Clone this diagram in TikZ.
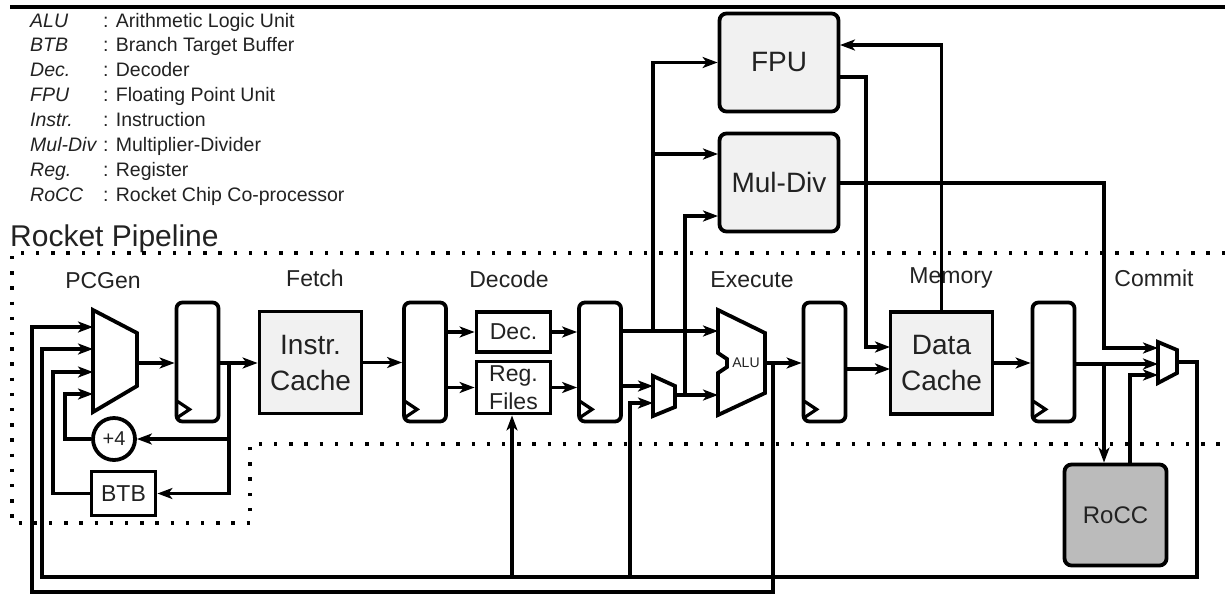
\documentclass[tikz,border=0pt]{standalone}
\usepackage{fontspec}
\setmainfont{Liberation Sans}
\usetikzlibrary{arrows.meta,calc}
\definecolor{txt}{HTML}{222222}
\definecolor{cachefill}{HTML}{F1F1F1}
\definecolor{roccfill}{HTML}{BBBBBB}
\begin{document}
\begin{tikzpicture}[x=1pt,y=-1pt,
  wire/.style={line width=3.8pt},
  arr/.style={wire,-{Stealth[length=15pt,width=11pt,inset=4pt]}},
  blk/.style={draw,line width=3.8pt,inner sep=0pt,align=center,text=txt},
  regbox/.style={blk,rounded corners=6pt,minimum width=42pt,minimum height=119pt},
  cachebox/.style={blk,fill=cachefill,minimum width=102pt,minimum height=102pt,font=\fontsize{28}{36}\selectfont},
  unitbox/.style={blk,fill=cachefill,rounded corners=7pt,minimum width=119pt,minimum height=98pt,font=\fontsize{28}{34}\selectfont},
  smallbox/.style={blk,font=\fontsize{23}{28}\selectfont},
  stagelbl/.style={anchor=base,inner sep=0pt,text=txt,font=\fontsize{23}{28}\selectfont},
  legab/.style={anchor=base west,inner sep=0pt,text=txt,font=\fontsize{19.5}{23}\selectfont\itshape},
  legtx/.style={anchor=base west,inner sep=0pt,text=txt,font=\fontsize{19.5}{23}\selectfont},
  dots/.style={line width=3.4pt,dash pattern=on 3.4pt off 11.8pt},
  ghost/.style={inner sep=0pt,outer sep=0pt}
]
\useasboundingbox (0,0) rectangle (1225,595);
\fill[white] (0,0) rectangle (1225,595);

% top rule
\draw[line width=3.8pt] (10,7) -- (1225,7);

% legend
\foreach \i/\ab/\tx in {0/ALU/Arithmetic Logic Unit,1/BTB/Branch Target Buffer,2/Dec./Decoder,3/FPU/Floating Point Unit,4/Instr./Instruction,5/Mul-Div/Multiplier-Divider,6/Reg./Register,7/RoCC/Rocket Chip Co-processor}{
  \node[legab] (la\i) at (30,27+24.9*\i) {\ab};
  \node[legtx] (lt\i) at (103,27+24.9*\i) {: \tx};
}

% pipeline frame
\node[anchor=base west,inner sep=0pt,text=txt,font=\fontsize{30}{34}\selectfont] (rp) at (10,246) {Rocket Pipeline};
\draw[dots] (1225,253) -- (12,253) -- (12,523) -- (250,523) -- (250,444) -- (1225,444);

% stage labels
\node[stagelbl] (sPC) at (103,288) {PCGen};
\node[stagelbl] (sF) at (315,286) {Fetch};
\node[stagelbl] (sD) at (509,287) {Decode};
\node[stagelbl] (sE) at (752,287) {Execute};
\node[stagelbl] (sM) at (951,283) {Memory};
\node[stagelbl] (sC) at (1154,286) {Commit};

% pipeline registers
\node[regbox] (reg1) at (197.5,362) {};
\node[regbox] (reg2) at (425,362) {};
\node[regbox] (reg3) at (600,362) {};
\node[regbox] (reg4) at (824.5,362) {};
\node[regbox] (reg5) at (1053.5,362) {};
\foreach \r in {reg1,reg2,reg3,reg4,reg5}
  \draw[line width=3.2pt] ($(\r.south west)+(3,-22)$) -- ++(12,8) -- ++(-12,8);

% blocks
\node[cachebox] (icache) at (310.5,362.5) {Instr.\\Cache};
\node[cachebox] (dcache) at (941.5,363) {Data\\Cache};
\node[smallbox,minimum width=74pt,minimum height=40pt] (dec) at (513.5,332) {Dec.};
\node[smallbox,minimum width=74pt,minimum height=52pt] (regf) at (513.5,387.5) {Reg.\\Files};
\node[unitbox] (fpu) at (779,62.5) {FPU};
\node[unitbox] (muldiv) at (779,182.5) {Mul-Div};
\node[blk,fill=roccfill,rounded corners=7pt,minimum width=102pt,minimum height=101pt,font=\fontsize{24}{28}\selectfont] (rocc) at (1115.5,515) {RoCC};
\node[smallbox,minimum width=64pt,minimum height=44pt] (btb) at (123.5,493.5) {BTB};
\node[blk,circle,minimum size=42pt,font=\fontsize{20}{24}\selectfont] (plus4) at (114,439) {+4};

% muxes and ALU
\node[ghost,minimum width=44pt,minimum height=102pt] (pcmux) at (115,361) {};
\draw[wire] (pcmux.north west) -- ($(pcmux.north east)+(0,23)$) -- ($(pcmux.south east)+(0,-26)$) -- (pcmux.south west) -- cycle;
\node[ghost,minimum width=22pt,minimum height=40pt] (smux) at (664,396) {};
\draw[wire] (smux.north west) -- ($(smux.north east)+(0,10)$) -- ($(smux.south east)+(0,-9)$) -- (smux.south west) -- cycle;
\node[ghost,minimum width=19pt,minimum height=41pt] (cmux) at (1167.5,362.5) {};
\draw[wire] (cmux.north west) -- ($(cmux.north east)+(0,8)$) -- ($(cmux.south east)+(0,-10)$) -- (cmux.south west) -- cycle;
\node[ghost,minimum width=47pt,minimum height=105pt] (alu) at (741.5,362.5) {};
\draw[wire] (alu.north west) -- ($(alu.north east)+(0,23)$) -- ($(alu.south east)+(0,-22)$) -- (alu.south west)
  -- (718,373) -- (727,367) -- (727,359) -- (718,353) -- cycle;
\node[inner sep=0pt,text=txt,font=\fontsize{14}{16}\selectfont] (alulbl) at (746,363) {ALU};

% pins and bends
\coordinate (pcI1) at (93,327);
\coordinate (pcI2) at (93,349);
\coordinate (pcI3) at (93,372);
\coordinate (pcI4) at (93,394);
\coordinate (pcO) at (137,363);
\coordinate (br1) at (229,363);
\coordinate (k4) at (65,394);
\coordinate (k3) at (53,372);
\coordinate (aluB) at (773,363);
\coordinate (fbL1) at (32,592);
\coordinate (cO) at (1177,362);
\coordinate (cR) at (1197,577);
\coordinate (fbL2) at (42,577);
\coordinate (wbR) at (512,577);
\coordinate (wbS) at (630,577);
\coordinate (sI1) at (653,386);
\coordinate (sI2) at (653,403);
\coordinate (sO) at (675,395);
\coordinate (aluI1) at (718,331);
\coordinate (aluI2) at (718,395);
\coordinate (aluO) at (765,363);
\coordinate (brF) at (653,331);
\coordinate (brM) at (685,395);
\coordinate (mdI1) at (718,154);
\coordinate (mdI2) at (718,216);
\coordinate (fpuO) at (840,77);
\coordinate (fpuI2) at (840,45);
\coordinate (kF) at (866,347);
\coordinate (dcI1) at (890,347);
\coordinate (dcI2) at (890,369);
\coordinate (mdO) at (840,183);
\coordinate (kM) at (1104,348);
\coordinate (cI1) at (1158,348);
\coordinate (cI2) at (1158,364);
\coordinate (cI3) at (1158,375);
\coordinate (brR) at (1104,364);
\coordinate (rOut) at (1130,0);

% PCGen stage
\draw[arr] (pcO) -- (reg1.west |- pcO);
\draw[arr] (reg1.east |- br1) -- (icache.west |- br1);
\draw[arr] (br1) |- (plus4.east);
\draw[arr] (br1) |- (btb.east);
\draw[arr] (plus4.west) -| (k4) -- (pcI4);
\draw[arr] (btb.west) -| (k3) -- (pcI3);
\draw[arr] (aluB) |- (fbL1) |- (pcI1);
\draw[arr] (cO) -| (cR) -- (fbL2) |- (pcI2);

% fetch / decode
\draw[arr] (icache.east) -- (reg2.west |- icache.east);
\draw[arr] (reg2.east |- dec.west) -- (dec.west);
\draw[arr] (reg2.east |- regf.west) -- (regf.west);
\draw[arr] (dec.east) -- (reg3.west |- dec.east);
\draw[arr] (regf.east) -- (reg3.west |- regf.east);
\draw[arr] (wbR) -- (wbR |- regf.south);

% execute
\draw[arr] (reg3.east |- aluI1) -- (aluI1);
\draw[arr] (brF) |- (fpu.west);
\draw[arr] (brF) |- (mdI1);
\draw[arr] (reg3.east |- sI1) -- (sI1);
\draw[arr] (wbS) |- (sI2);
\draw[arr] (sO) -- (aluI2);
\draw[arr] (brM) |- (mdI2);
\draw[arr] (aluO) -- (reg4.west |- aluO);

% memory
\draw[arr] (reg4.east |- dcI2) -- (dcI2);
\draw[arr] (fpuO) -| (kF) -- (dcI1);
\draw[arr] (dcache.north) |- (fpuI2);
\draw[arr] (dcache.east) -- (reg5.west |- dcache.east);

% commit
\draw[arr] (mdO) -| (kM) -- (cI1);
\draw[arr] (reg5.east |- cI2) -- (cI2);
\draw[arr] (brR) -- (brR |- rocc.north);
\draw[arr] (rOut |- rocc.north) |- (cI3);
\end{tikzpicture}
\end{document}
